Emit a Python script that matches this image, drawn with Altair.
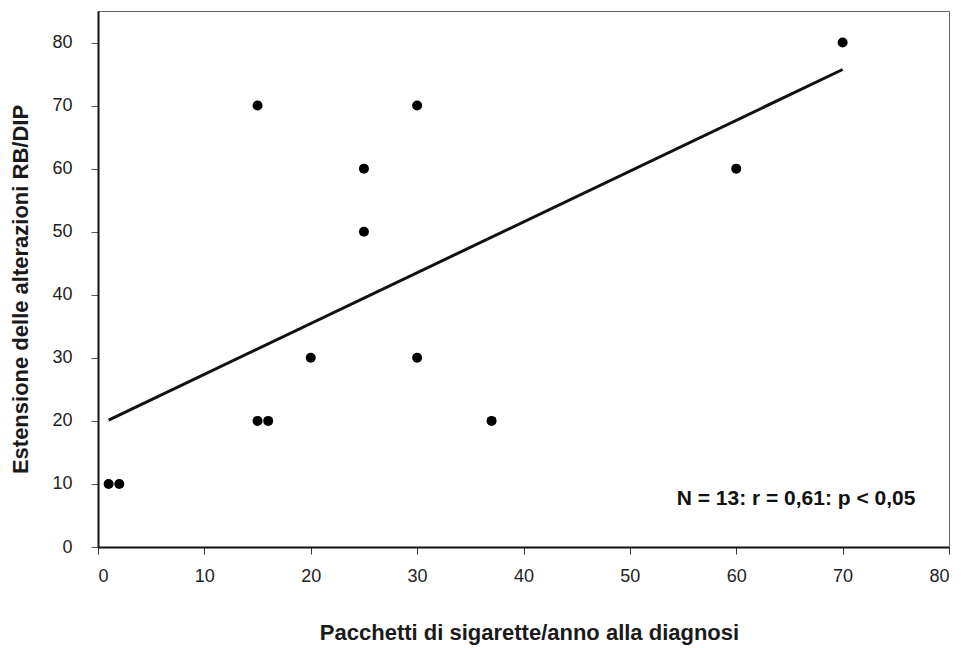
import altair as alt
import pandas as pd

pacchetti = [1, 2, 15, 15, 16, 20, 25, 25, 30, 30, 37, 60, 70]
estensione = [10, 10, 70, 20, 20, 30, 60, 50, 70, 30, 20, 60, 80]
x_ticks = [0, 10, 20, 30, 40, 50, 60, 70, 80]
y_ticks = [0, 10, 20, 30, 40, 50, 60, 70, 80]
annot_text = ["N = 13: r = 0,61: p < 0,05"]
annot_x = [54.4]
annot_y = [7.6]

df = pd.DataFrame({"x": pacchetti, "y": estensione})
ann = pd.DataFrame({"x": annot_x, "y": annot_y, "t": annot_text})

FONT = "Liberation Sans"

xs = alt.Scale(domain=[0, 80], nice=False, zero=False)
ys = alt.Scale(domain=[0, 85], nice=False, zero=False)

xaxis = alt.Axis(
    values=x_ticks, grid=False, tickSize=7, labelPadding=13,
    labelFontSize=18, labelColor="#222", labelFont=FONT,
    domainColor="#111", domainWidth=2, tickColor="#333", tickWidth=1,
    title="Pacchetti di sigarette/anno alla diagnosi",
    titleFont=FONT, titleFontSize=22, titleFontWeight="bold", titleColor="#1a1a1a",
    titleX=431, titleY=92, titleBaseline="alphabetic", titleAlign="center",
)
yaxis = alt.Axis(
    values=y_ticks, grid=False, tickSize=7, labelPadding=19,
    labelFontSize=18, labelColor="#222", labelFont=FONT,
    domainColor="#111", domainWidth=2, tickColor="#555", tickWidth=1,
    title="Estensione delle alterazioni RB/DIP",
    titleFont=FONT, titleFontSize=22, titleFontWeight="bold", titleColor="#1a1a1a",
    titleX=-78, titleY=278, titleBaseline="middle", titleAlign="center", titleAngle=-90,
)

points = alt.Chart(df).mark_circle(size=100, color="black", opacity=1).encode(
    x=alt.X("x:Q", scale=xs, axis=xaxis),
    y=alt.Y("y:Q", scale=ys, axis=yaxis),
)

line = alt.Chart(df).transform_regression("x", "y").mark_line(
    color="#111", strokeWidth=3
).encode(x=alt.X("x:Q", scale=xs), y=alt.Y("y:Q", scale=ys))

text = alt.Chart(ann).mark_text(
    align="left", baseline="middle", font=FONT, fontSize=21,
    fontWeight="bold", color="#111"
).encode(x=alt.X("x:Q", scale=xs), y=alt.Y("y:Q", scale=ys), text="t:N")

chart = alt.layer(line, points, text).properties(
    width=851, height=536,
    autosize=alt.AutoSizeParams(type="none"),
    padding={"left": 90, "top": 3, "right": 6, "bottom": 98},
    background="white",
).configure_view(stroke="#666", strokeWidth=1)

chart.save("out.html", embed_options={"renderer": "svg", "actions": False})
